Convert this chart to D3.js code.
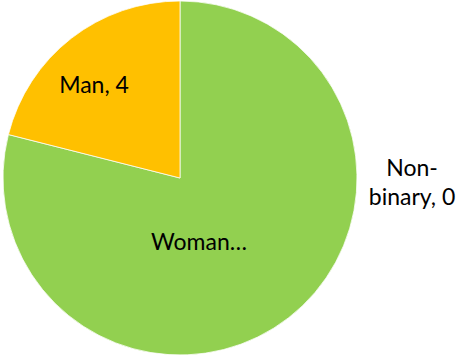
<!DOCTYPE html>
<html>
<head>
<meta charset="utf-8">
<script src="https://cdn.jsdelivr.net/npm/d3@7/dist/d3.min.js"></script>
<style>
  html, body { margin: 0; padding: 0; background: #fff; }
  svg { display: block; }
  text { font-family: "Lato", "Open Sans", sans-serif; fill: #000; }
</style>
</head>
<body>
<svg id="chart" width="457" height="358"></svg>
<script>
// Survey responses by gender
const categories = ["Woman", "Man", "Non-binary"];
const counts = [15, 4, 0];
const sliceColors = ["#92D050", "#FFC000", "#5B9BD5"];

const width = 457, height = 358;
const cx = 180, cy = 178, radius = 177;

const svg = d3.select("#chart");
const g = svg.append("g").attr("transform", `translate(${cx},${cy})`);

const data = categories.map((c, i) => ({ category: c, value: counts[i] }));

const pie = d3.pie().sort(null).value(d => d.value);
const arc = d3.arc().innerRadius(0).outerRadius(radius);
const color = d3.scaleOrdinal().domain(categories).range(sliceColors);

const arcs = pie(data);

g.selectAll("path.slice")
  .data(arcs.filter(d => d.value > 0))
  .join("path")
  .attr("class", "slice")
  .attr("d", arc)
  .attr("fill", d => color(d.data.category))
  .attr("stroke", "#fff")
  .attr("stroke-width", 0.75);

// Data labels ("Category, value"); long ones are truncated or wrapped
const labelLayout = {
  "Woman": { x: 19, y: 64, lines: ["Woman\u2026"] },
  "Man": { x: -86, y: -93, lines: ["Man, 4"] },
  "Non-binary": { x: 232, y: 4, lines: ["Non-", "binary, 0"] }
};

const fontSize = 23, lineHeight = 29;
arcs.forEach(d => {
  const L = labelLayout[d.data.category];
  const t = g.append("text")
    .attr("text-anchor", "middle")
    .attr("font-size", fontSize)
    .attr("x", L.x)
    .attr("y", L.y);
  const n = L.lines.length;
  L.lines.forEach((line, i) => {
    t.append("tspan")
      .attr("x", L.x)
      .attr("y", L.y + (i - (n - 1) / 2) * lineHeight)
      .attr("dy", "0.35em")
      .text(line);
  });
});
</script>
</body>
</html>
